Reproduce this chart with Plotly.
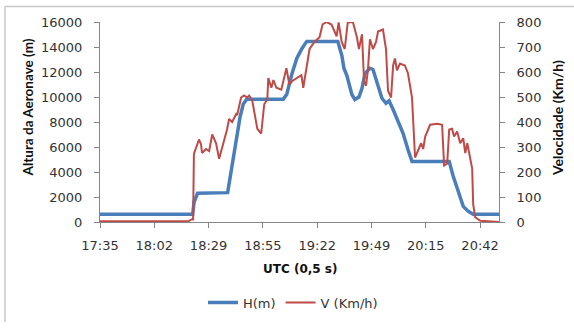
import plotly.graph_objects as go

# ---- data (time in minutes after 17:00 UTC) ----
h_time = [35, 80.6, 81.3, 83.0, 97.8, 99.8, 102.3, 103.9, 105.5, 107.2, 125.2, 126.9, 129.3,
          131.8, 134.3, 136.7, 152.0, 154.0, 155.0, 156.5, 158.9, 160.4, 162.4, 163.9, 165.4,
          167.8, 169.3, 171.3, 173.7, 175.7, 177.2, 179.2, 181.6, 184.1, 186.5, 188.5, 190.0,
          206.8, 208.7, 211.2, 213.7, 216.2, 218.6, 231.3]
h_m = [620, 620, 1600, 2300, 2350, 4260, 6600, 8400, 9450, 9830, 9830, 10220, 11780,
       13080, 13860, 14450, 14450, 13300, 12300, 11700, 10200, 9800, 10000, 10700, 11900,
       12300, 12200, 11100, 9900, 9500, 9700, 9000, 8100, 7100, 5800, 4850, 4850,
       4850, 3700, 2400, 1250, 850, 620, 620]

v_time = [35, 78.5, 80.0, 80.8, 81.2, 82.2, 83.7, 84.7, 85.2, 87.2, 88.7, 90.2, 92.1, 93.6,
          95.0, 97.5, 98.5, 100.0, 102.0, 102.5, 104.4, 105.9, 107.4, 108.4, 109.9, 111.4,
          112.4, 114.3, 114.8, 115.8, 117.3, 117.8, 119.3, 120.3, 121.8, 124.2, 126.7, 128.2,
          129.6, 132.1, 134.1, 135.0, 136.6, 138.1, 140.5, 143.0, 144.5, 146.5, 148.9, 151.4,
          152.4, 153.9, 155.4, 156.9, 159.4, 161.4, 162.4, 163.9, 164.9, 165.9, 166.8, 167.8,
          169.3, 170.8, 171.8, 174.2, 175.7, 176.7, 178.2, 179.2, 180.1, 181.1, 182.6, 185.0,
          186.5, 188.5, 190.0, 191.5, 193.0, 194.0, 195.0, 197.4, 200.9, 203.3, 204.3, 205.8,
          206.8, 208.2, 209.2, 210.7, 212.2, 213.7, 214.7, 215.7, 218.1, 218.6, 219.6, 222.1,
          231.3]
v_kmh = [3, 3, 10, 10, 272, 292, 330, 311, 276, 292, 284, 350, 315, 253,
         292, 370, 412, 400, 432, 428, 498, 506, 498, 506, 486, 408,
         373, 354, 393, 471, 490, 576, 537, 568, 537, 529, 615, 549,
         564, 576, 587, 537, 626, 692, 720, 739, 790, 800, 790, 743,
         798, 720, 692, 798, 800, 739, 692, 751, 564, 545, 607, 731,
         692, 720, 762, 770, 692, 525, 498, 626, 654, 607, 634, 626,
         595, 498, 258, 284, 315, 292, 342, 389, 393, 389, 226, 233,
         370, 373, 342, 362, 315, 335, 276, 315, 214, 70, 19, 5,
         0]

tick_vals = [35, 61.714, 88.429, 115.143, 141.857, 168.571, 195.286, 222.0]
tick_text = ["17:35", "18:02", "18:29", "18:55", "19:22", "19:49", "20:15", "20:42"]
h_ticks = [0, 2000, 4000, 6000, 8000, 10000, 12000, 14000, 16000]
v_ticks = [0, 100, 200, 300, 400, 500, 600, 700, 800]

# ---- figure ----
W, H = 574, 329
L, R, T, B = 100, 75, 22, 101
pw, ph = W - L - R, H - T - B


def px_x(p):
    return (p - L) / pw


def px_y(p):
    return (H - B - p) / ph


axis_col = "#868686"
txt_col = "#333333"
tick_font = dict(family="DejaVu Sans", size=13, color=txt_col)

fig = go.Figure()
fig.add_trace(go.Scatter(x=h_time, y=h_m, name="H(m)", mode="lines",
                         line=dict(color="#4A7EBB", width=3.5), yaxis="y"))
fig.add_trace(go.Scatter(x=v_time, y=v_kmh, name="V (Km/h)", mode="lines",
                         line=dict(color="#BE4B48", width=2), yaxis="y2"))

fig.update_layout(
    width=W, height=H,
    margin=dict(l=L, r=R, t=T, b=B, pad=0),
    paper_bgcolor="white", plot_bgcolor="white",
    showlegend=True,
    legend=dict(orientation="h", x=px_x(293), y=px_y(311), xanchor="center", yanchor="middle",
                font=dict(family="DejaVu Sans", size=13, color=txt_col),
                bgcolor="rgba(0,0,0,0)", itemwidth=30, tracegroupgap=0),
    xaxis=dict(range=[35, 231.3], tickvals=tick_vals, ticktext=tick_text,
               showgrid=False, zeroline=False, showline=True, linecolor=axis_col, linewidth=1,
               ticks="outside", ticklen=5, tickcolor=axis_col, tickfont=tick_font,
               ticklabelstandoff=6),
    yaxis=dict(range=[0, 16000], tickvals=h_ticks, tickformat="d",
               showgrid=False, zeroline=False, showline=True, linecolor=axis_col, linewidth=1,
               ticks="outside", ticklen=5, tickcolor=axis_col, tickfont=tick_font,
               ticklabelstandoff=9),
    yaxis2=dict(range=[0, 800], tickvals=v_ticks, tickformat="d", overlaying="y", side="right",
                showgrid=False, zeroline=False, showline=True, linecolor=axis_col, linewidth=1,
                ticks="outside", ticklen=5, tickcolor=axis_col, tickfont=tick_font,
                ticklabelstandoff=9),
    annotations=[
        dict(text="<b>Altura da Aeronave (m)</b>", textangle=-90, xref="paper", yref="paper",
             x=px_x(28), y=px_y(110), xanchor="center", yanchor="middle", showarrow=False,
             font=dict(family="Lato", size=13.5, color="#111111")),
        dict(text="<b>Velocidade (Km/h)</b>", textangle=-90, xref="paper", yref="paper",
             x=px_x(557), y=px_y(121), xanchor="center", yanchor="middle", showarrow=False,
             font=dict(family="Lato", size=14, color="#111111")),
        dict(text="<b>UTC (0,5 s)</b>", xref="paper", yref="paper",
             x=px_x(300), y=px_y(276), xanchor="center", yanchor="middle", showarrow=False,
             font=dict(family="DejaVu Sans", size=12, color="#111111")),
    ],
    shapes=[
        dict(type="line", xref="paper", yref="paper", x0=px_x(5), x1=px_x(5),
             y0=px_y(6), y1=px_y(H + 2), line=dict(color="#C8C8C8", width=1.5)),
        dict(type="line", xref="paper", yref="paper", x0=px_x(5), x1=px_x(W + 2),
             y0=px_y(6), y1=px_y(6), line=dict(color="#C8C8C8", width=1.5)),
    ],
)

fig.write_html("out.html")
